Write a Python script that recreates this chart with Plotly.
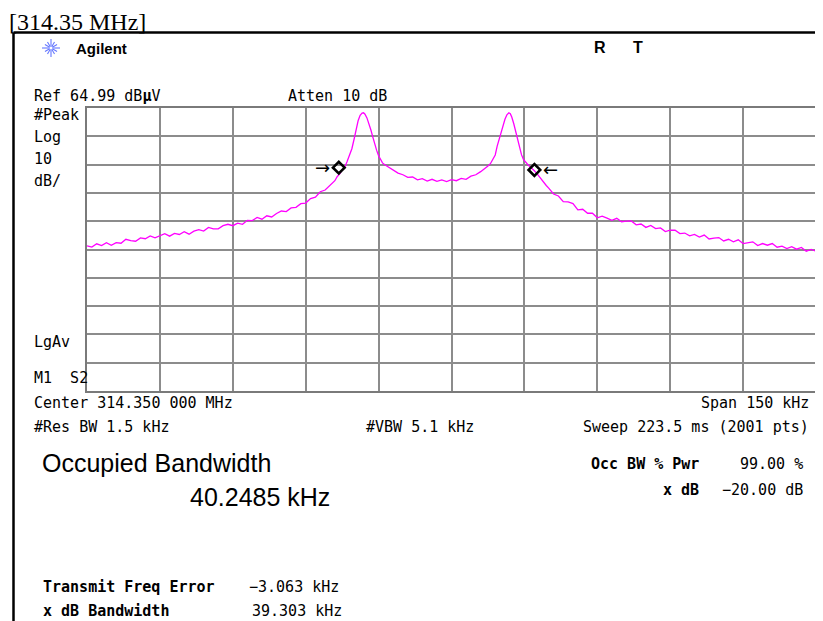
import math
import plotly.graph_objects as go

# ---------------- data ----------------
freq_khz = [
    -75, -74, -73, -72, -71, -70, -69, -68, -67, -66, -65, -64, -63, -62, -61, -60,
    -59, -58, -57, -56, -55, -54, -53, -52, -51, -50, -49, -48, -47, -46, -45, -44,
    -43, -42, -41, -40, -39, -38, -37, -36, -35, -34, -33, -32, -31, -30, -29, -28,
    -27, -26, -25,
    -24.5, -24, -23.5, -23, -22.5, -22, -21.5, -21, -20.5, -20, -19.6, -19.2, -18.8,
    -18.4, -18.1, -17.8, -17.4, -17.0, -16.6, -16.2, -15.8, -15.4, -15.0, -14.6,
    -14.2, -13.8, -13.4, -13.0,
    -12, -11, -10, -9, -8, -7, -6, -5, -4, -3, -2, -1, 0, 1, 2, 3, 4, 5, 6, 7,
    7.5, 8, 8.5, 9, 9.4, 9.8, 10.2, 10.6, 11.0, 11.4, 11.8, 12.1, 12.4, 12.8, 13.2,
    13.6, 14.0, 14.4, 14.8, 15.2, 15.6, 16.0, 16.5, 17.0, 17.5, 18.0, 18.5, 19.0,
    19.5, 20.0,
    21, 22, 23, 24, 25, 26, 27, 28, 29, 30, 31, 32, 33, 34, 35, 36, 37, 38, 39, 40,
    41, 42, 43, 44, 45, 46, 47, 48, 49, 50, 51, 52, 53, 54, 55, 56, 57, 58, 59, 60,
    61, 62, 63, 64, 65, 66, 67, 68, 69, 70, 71, 72, 73, 74, 75,
]
level_dbuv = [
    16.3, 15.85, 17.0, 16.4, 17.4, 16.5, 17.4, 17.2, 18.6, 18.1, 17.9, 19.1, 18.8, 19.8, 19.1, 19.9,
    20.6, 19.7, 20.7, 20.3, 21.3, 20.4, 21.5, 22.0, 21.5, 22.8, 22.3, 22.3, 23.4, 23.9, 23.4, 24.3,
    23.9, 25.3, 25.2, 26.3, 25.7, 26.9, 26.5, 27.7, 28.6, 28.4, 29.7, 29.9, 31.2, 31.4, 33.0, 33.5,
    35.4, 36.0, 37.7,
    38.4, 39.3, 40.8, 41.7, 43.1, 43.9, 46.0, 48.3, 50.6, 54.3, 57.8, 60.6, 62.4,
    63.2, 63.3, 62.8, 61.5, 59.7, 57.3, 54.8, 52.2, 50.0, 48.1, 46.6,
    45.6, 45.0, 44.6, 44.1,
    43.1, 42.0, 41.4, 40.5, 40.6, 39.6, 40.0, 39.2, 39.8, 39.1, 39.6, 39.0, 39.7, 39.3, 40.1, 39.8, 40.9, 41.4, 42.5, 43.7,
    44.5, 45.3, 46.7, 48.4, 51.5, 54.0, 56.8, 58.6, 61.0, 62.6, 63.3, 63.0, 61.8, 59.5, 56.5,
    53.8, 51.0, 48.5, 46.8, 45.8, 45.2, 44.5, 43.8, 42.9, 42.0, 40.8, 40.0, 38.7,
    37.6, 36.7,
    34.6, 33.9, 31.9, 31.8, 31.2, 29.0, 29.2, 27.8, 27.8, 26.2, 26.8, 26.1, 25.3, 26.0, 24.8, 25.0, 25.1, 23.7, 24.0, 22.8,
    23.5, 22.4, 22.6, 21.3, 21.8, 21.8, 20.6, 20.8, 19.8, 20.3, 19.4, 20.1, 18.7, 19.0, 19.2, 18.0, 18.6, 17.7, 18.4, 17.1,
    17.5, 17.7, 16.4, 17.1, 16.5, 17.1, 15.8, 16.2, 15.3, 16.0, 15.1, 15.7, 14.4, 15.0, 14.4,
]
obw_marker_khz = [-23.19, 17.06]
obw_marker_db = [43.9, 43.1]

ref_level = 64.99
db_per_div = 10
span_khz = 150

# The page body adds an 8 px margin; positions below are page pixels.
OFF = 8
W, H = 823 - OFF, 621 - OFF
MONO = "DejaVu Sans Mono"
SANS = "Liberation Sans"


def px(x):
    return (x - OFF) / W


def py(y):
    return 1 - (y - OFF) / H


fig = go.Figure()
fig.add_trace(go.Scatter(
    x=freq_khz, y=level_dbuv, mode="lines",
    line=dict(color="#ff00ff", width=1.3), hoverinfo="skip", showlegend=False))
fig.add_trace(go.Scatter(
    x=obw_marker_khz, y=obw_marker_db, mode="markers",
    marker=dict(symbol="diamond-open", size=9, color="black", line=dict(width=2.6, color="black")),
    showlegend=False, hoverinfo="skip"))

annotations = []


def txt(text, x, y, size=15, family=MONO, anchor="left", color="black"):
    annotations.append(dict(
        text=text, x=px(x), y=py(y), xref="paper", yref="paper",
        xanchor=anchor, yanchor="middle", showarrow=False,
        font=dict(family=family, size=size, color=color)))


# title: anchored to the very top-left of the figure so nothing is clipped
annotations.append(dict(
    text="[314.35 MHz]", x=0, y=1, xref="paper", yref="paper",
    xanchor="left", yanchor="top", showarrow=False, borderpad=0,
    font=dict(family="Liberation Serif", size=24, color="black")))
txt("<b>Agilent</b>", 74, 48, size=15, family=SANS)
txt("<b>R</b>", 600, 47, size=16, family=SANS, anchor="center")
txt("<b>T</b>", 638, 47, size=16, family=SANS, anchor="center")
txt("Ref 64.99 dB<b>µ</b>V", 32, 96)
txt("Atten 10 dB", 286, 96)
txt("#Peak", 32, 115)
txt("Log", 32, 137)
txt("10", 32, 159)
txt("dB/", 32, 181)
txt("LgAv", 32, 342)
txt("M1  S2", 32, 378)
txt("Center 314.350 000 MHz", 32, 403)
txt("#Res BW 1.5 kHz", 32, 427)
txt("#VBW 5.1 kHz", 364, 427)
txt("Span 150 kHz", 811, 403, anchor="right")
txt("Sweep 223.5 ms (2001 pts)", 811, 427, anchor="right")
txt("Occupied Bandwidth", 40, 463, size=25, family=SANS)
txt("40.2485 kHz", 188, 497, size=25, family=SANS)
txt("<b>Occ BW % Pwr</b>", 701, 464, size=15, anchor="right")
txt("99.00 %", 805, 464, anchor="right")
txt("<b>x dB</b>", 701, 490, size=15, anchor="right")
txt("−20.00 dB", 805, 490, anchor="right")
txt("<b>Transmit Freq Error</b>", 41, 587)
txt("−3.063 kHz", 247, 587)
txt("<b>x dB Bandwidth</b>", 41, 611)
txt("39.303 kHz", 250, 611)

# marker arrows
annotations.append(dict(text="→", x=obw_marker_khz[0], y=obw_marker_db[0], xref="x", yref="y",
                        xanchor="right", yanchor="middle", xshift=-7, showarrow=False,
                        font=dict(family="DejaVu Sans", size=18, color="black")))
annotations.append(dict(text="←", x=obw_marker_khz[1], y=obw_marker_db[1], xref="x", yref="y",
                        xanchor="left", yanchor="middle", xshift=7, showarrow=False,
                        font=dict(family="DejaVu Sans", size=18, color="black")))

shapes = []
# frame lines (top and left)
shapes.append(dict(type="line", xref="paper", yref="paper", x0=px(13.5), x1=1.0,
                   y0=py(32.5), y1=py(32.5), line=dict(color="black", width=2.5)))
shapes.append(dict(type="line", xref="paper", yref="paper", x0=px(13.5), x1=px(13.5),
                   y0=0, y1=py(32.5), line=dict(color="black", width=2.5)))
# Agilent spark logo
cx, cy = 51, 48
for k in range(12):
    a = k * math.pi / 6
    r = 9 if k % 3 == 0 else 7
    shapes.append(dict(type="line", xref="paper", yref="paper",
                       x0=px(cx + 1.5 * math.cos(a)), y0=py(cy + 1.5 * math.sin(a)),
                       x1=px(cx + r * math.cos(a)), y1=py(cy + r * math.sin(a)),
                       line=dict(color="#6477ff", width=1.1)))

fig.update_layout(
    width=W, height=H, autosize=False,
    margin=dict(l=0, r=0, t=0, b=0),
    paper_bgcolor="white", plot_bgcolor="white",
    showlegend=False,
    annotations=annotations, shapes=shapes,
    xaxis=dict(domain=[px(87), px(816)], range=[-span_khz / 2, span_khz / 2],
               tick0=-span_khz / 2, dtick=span_khz / 10, showgrid=True,
               gridcolor="#8c8c8c", gridwidth=1.6, zeroline=False,
               showticklabels=False, ticks="", showline=True, linecolor="#7a7a7a",
               linewidth=2, mirror=True, fixedrange=True),
    yaxis=dict(domain=[py(391), py(108)], range=[ref_level - 10 * db_per_div, ref_level],
               tick0=ref_level, dtick=db_per_div, showgrid=True,
               gridcolor="#8c8c8c", gridwidth=1.6, zeroline=False,
               showticklabels=False, ticks="", showline=True, linecolor="#7a7a7a",
               linewidth=2, mirror=True, fixedrange=True),
)

fig.write_html("out.html")
